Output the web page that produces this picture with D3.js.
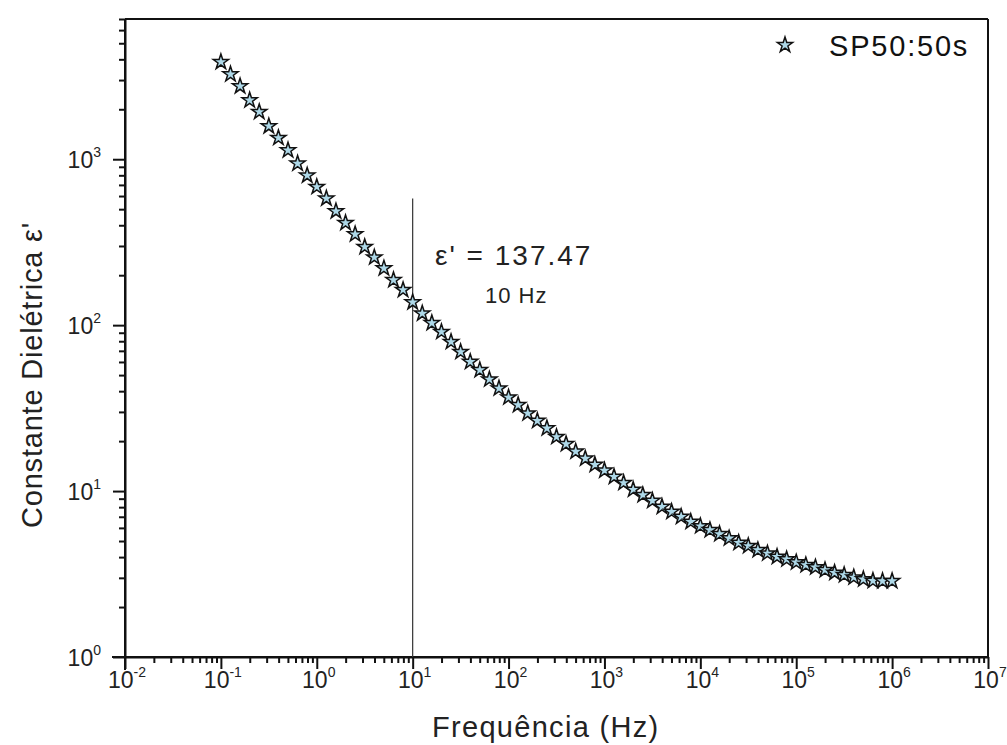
<!DOCTYPE html>
<html><head><meta charset="utf-8">
<script src="https://cdn.jsdelivr.net/npm/d3@7"></script>
<style>
html,body{margin:0;padding:0;background:#fff;}
svg{display:block;font-family:"Liberation Sans",Arial,sans-serif;}
</style></head>
<body><svg id="chart" width="1007" height="745"></svg>
<script>
// ---- data ----
const frequencies = [
  0.1,0.1259,0.1585,0.1995,0.2512,0.3162,0.3981,0.5012,0.631,0.7943,
  1,1.259,1.585,1.995,2.512,3.162,3.981,5.012,6.31,7.943,
  10,12.59,15.85,19.95,25.12,31.62,39.81,50.12,63.1,79.43,
  100,125.9,158.5,199.5,251.2,316.2,398.1,501.2,631,794.3,
  1000,1259,1585,1995,2512,3162,3981,5012,6310,7943,
  10000,12590,15850,19950,25120,31620,39810,50120,63100,79430,
  100000,125900,158500,199500,251200,316200,398100,501200,631000,794300,
  1000000
];
const permittivity = [
  3855,3250,2754,2266,1927,1581,1344,1132,942,798,
  681,580,486,413,353,296,256,220,187,163,
  137.47,117.6,103,91.1,79.3,69.0,60.1,53.6,47.1,41.6,
  36.7,33.0,29.4,26.5,23.9,21.2,19.2,17.3,15.7,14.4,
  13.3,12.2,11.2,10.2,9.46,8.74,8.04,7.50,7.00,6.53,
  6.15,5.82,5.51,5.19,4.88,4.67,4.41,4.21,4.02,3.88,
  3.72,3.58,3.47,3.34,3.22,3.12,3.02,2.94,2.88,2.87,
  2.87
];
const seriesName = "SP50:50s";
const xTickExponents = [-2,-1,0,1,2,3,4,5,6,7];
const yTickExponents = [0,1,2,3];
const xDomain = [1e-2, 1e7];
const yDomain = [1, 7000];
const markerFreq = 10;
const markerLineTop = 580;
const annotationMain = "ε' = 137.47";
const annotationSub = "10 Hz";
const xTitle = "Frequência (Hz)";
const yTitle = "Constante Dielétrica ε'";

// ---- layout ----
const L = 125, R = 988, T = 19, B = 657;
const svg = d3.select("#chart");
const x = d3.scaleLog().domain(xDomain).range([L, R]);
const y = d3.scaleLog().domain(yDomain).range([B, T]);

function minorTicks(domain) {
  const out = [];
  const lo = Math.floor(Math.log10(domain[0])), hi = Math.ceil(Math.log10(domain[1]));
  for (let e = lo; e < hi; e++) for (let m = 2; m <= 9; m++) {
    const v = m * Math.pow(10, e);
    if (v > domain[0] && v <= domain[1] * 1.0001) out.push(v);
  }
  return out;
}
const black = "#111";

// frame (top & right)
svg.append("line").attr("x1", L).attr("x2", R).attr("y1", T).attr("y2", T)
  .attr("stroke", black).attr("stroke-width", 2);
svg.append("line").attr("x1", R).attr("x2", R).attr("y1", T).attr("y2", B)
  .attr("stroke", black).attr("stroke-width", 2);

// x axis
const gx = svg.append("g").attr("transform", `translate(0,${B})`);
gx.call(d3.axisBottom(x).tickValues(minorTicks(xDomain)).tickSize(6).tickFormat("").tickSizeOuter(0));
const gxMaj = svg.append("g").attr("transform", `translate(0,${B})`);
gxMaj.call(d3.axisBottom(x).tickValues(xTickExponents.map(e => Math.pow(10, e))).tickSize(12).tickFormat("").tickSizeOuter(0));
[gx, gxMaj].forEach(g => {
  g.select(".domain").attr("stroke", black).attr("stroke-width", 2);
  g.selectAll(".tick line").attr("stroke", black).attr("stroke-width", 2);
});
gx.select(".domain").attr("d", `M${L - 13},0H${R}`);
xTickExponents.forEach(e => {
  const t = svg.append("text").attr("x", x(Math.pow(10, e)) + 2).attr("y", 688)
    .attr("text-anchor", "middle").attr("font-size", 23).attr("fill", "#222");
  t.append("tspan").text("10");
  t.append("tspan").attr("font-size", 14).attr("dy", -11).text(String(e));
});

// y axis
const gy = svg.append("g").attr("transform", `translate(${L},0)`);
gy.call(d3.axisLeft(y).tickValues(minorTicks(yDomain)).tickSize(6).tickFormat("").tickSizeOuter(0));
const gyMaj = svg.append("g").attr("transform", `translate(${L},0)`);
gyMaj.call(d3.axisLeft(y).tickValues(yTickExponents.map(e => Math.pow(10, e))).tickSize(12).tickFormat("").tickSizeOuter(0));
[gy, gyMaj].forEach(g => {
  g.select(".domain").attr("stroke", black).attr("stroke-width", 2);
  g.selectAll(".tick line").attr("stroke", black).attr("stroke-width", 2);
});
gy.select(".domain").attr("d", `M0,${B + 13}V${T}`);
yTickExponents.forEach(e => {
  const t = svg.append("text").attr("x", 101).attr("y", y(Math.pow(10, e)) + 9)
    .attr("text-anchor", "end").attr("font-size", 23).attr("fill", "#222");
  t.append("tspan").text("10");
  t.append("tspan").attr("font-size", 14).attr("dy", -11).text(String(e));
});

// titles
svg.append("text").attr("x", 432).attr("y", 737).attr("font-size", 29)
  .attr("fill", "#222").attr("letter-spacing", 1.3).text(xTitle);
svg.append("text").attr("transform", "translate(42,528) rotate(-90)")
  .attr("font-size", 29).attr("fill", "#222").attr("letter-spacing", 0.8).text(yTitle);

// marker line
svg.append("line").attr("x1", x(markerFreq)).attr("x2", x(markerFreq))
  .attr("y1", y(markerLineTop)).attr("y2", B).attr("stroke", "#333").attr("stroke-width", 1.2);
svg.append("text").attr("x", 435).attr("y", 265).attr("font-size", 28).attr("fill", "#222")
  .attr("letter-spacing", 2).text(annotationMain);
svg.append("text").attr("x", 485).attr("y", 303).attr("font-size", 22).attr("fill", "#222")
  .attr("letter-spacing", 1).text(annotationSub);

// data
const pts = frequencies.map((f, i) => ({ f, v: permittivity[i] }));
const star = d3.symbol().type(d3.symbolStar).size(72);
svg.append("g").selectAll("path").data(pts).join("path")
  .attr("d", star)
  .attr("transform", d => `translate(${x(d.f)},${y(d.v)})`)
  .attr("fill", "#aed8e8").attr("stroke", "#111").attr("stroke-width", 1.5);

// legend
svg.append("path").attr("d", d3.symbol().type(d3.symbolStar).size(72)())
  .attr("transform", "translate(785,45)")
  .attr("fill", "#aed8e8").attr("stroke", "#111").attr("stroke-width", 1.5);
svg.append("text").attr("x", 829).attr("y", 56).attr("font-size", 29)
  .attr("fill", "#111").attr("letter-spacing", 1.8).text(seriesName);
</script></body></html>
